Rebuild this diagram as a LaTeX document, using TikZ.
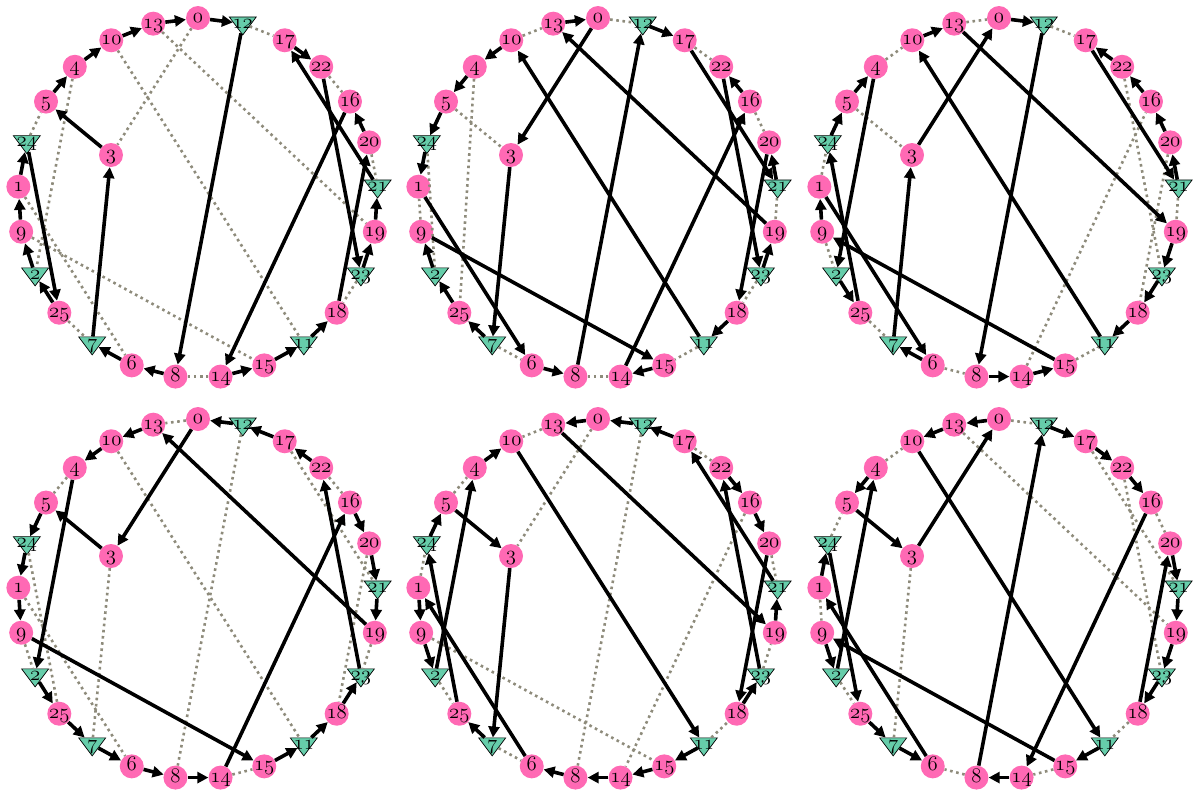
\documentclass[tikz,border=0pt]{standalone}
\usetikzlibrary{arrows.meta,shapes.geometric}
\definecolor{Pink}{HTML}{FF69B4}
\definecolor{Aqua}{HTML}{66CDAA}
\definecolor{Grey}{HTML}{8E8B7B}

% node / slot on the ring / shape
\newcommand\slots{0/0/pnode,12/1/tnode,17/2/pnode,22/3/pnode,16/4/pnode,20/5/pnode,
  21/6/tnode,19/7/pnode,23/8/tnode,18/9/pnode,11/10/tnode,15/11/pnode,14/12/pnode,
  8/13/pnode,6/14/pnode,7/15/tnode,25/16/pnode,2/17/tnode,9/18/pnode,1/19/pnode,
  24/20/tnode,5/21/pnode,4/22/pnode,10/23/pnode,13/24/pnode}
\newcommand\lbl[1]{\makebox[0pt]{\smash{\raisebox{-.5ex}{$\mathnormal{#1}$}}}}
% #1 name prefix, #2/#3 centre, #4 tour arrows, #5 dotted links
\newcommand\panel[5]{%
  \begin{scope}[shift={(#2,#3)}]
    \foreach \n/\k/\s in \slots
      \node[\s] (#1\n) at (90-14.4*\k:180) {\lbl{\n}};
    \node[pnode] (#13) at (-87,43) {\lbl{3}};
  \end{scope}
  \foreach \a/\b in {#5} \draw[link] (#1\a) -- (#1\b);
  \foreach \a/\b in {#4} \draw[tour] (#1\a) -- (#1\b);
}

\begin{document}
\begin{tikzpicture}[x=1pt,y=1pt,
    every node/.style={font=\fontsize{21}{21}\selectfont},
    pnode/.style={circle,fill=Pink,inner sep=0pt,minimum size=24pt},
    tnode/.style={isosceles triangle,isosceles triangle stretches,
      shape border rotate=-90,fill=Aqua,draw=black,line width=0.7pt,
      inner sep=0pt,minimum width=27pt,minimum height=18pt},
    tour/.style={line width=3.6pt,-{Triangle[length=11pt,width=11pt]}},
    link/.style={Grey,line width=2.6pt,dash pattern=on 2.6pt off 3.6pt}
  ]
  \useasboundingbox (0,0) rectangle (1194,-790);

  \panel{A}{198}{-198}
    {13/0,0/12,12/8,8/6,6/7,7/3,3/5,5/4,4/10,10/13,17/22,22/23,23/19,19/21,21/17,
     20/16,16/14,14/15,15/11,11/18,18/20,25/2,2/9,9/1,1/24,24/25}
    {12/17,22/16,20/21,0/3,13/19,10/11,4/2,24/5,1/6,9/15,25/7,8/14,23/18}

  \panel{B}{598}{-198}
    {13/0,0/3,3/7,7/25,25/2,2/9,9/15,15/14,14/16,16/22,22/23,23/19,19/13,
     10/4,4/5,5/24,24/1,1/6,6/8,8/12,12/17,17/21,21/20,20/18,18/11,11/10}
    {0/12,10/13,5/3,4/25,24/2,16/20,21/19,23/18,11/15,8/14,7/6,9/1,17/22}

  \panel{C}{999}{-198}
    {0/12,12/8,8/14,14/15,15/9,9/1,1/6,6/7,7/3,3/0,10/13,13/19,19/23,23/18,18/11,
     11/10,17/21,21/20,20/16,16/22,22/17,5/4,4/2,2/25,25/24,24/5}
    {13/0,12/17,4/10,1/24,5/3,9/2,25/7,6/8,15/11,14/16,22/23,20/18,21/19}

  \panel{D}{198}{-599}
    {12/0,0/3,3/5,5/24,24/1,1/9,9/15,15/11,11/18,18/23,23/22,22/17,17/12,
     13/10,10/4,4/2,2/25,25/7,7/6,6/8,8/14,14/16,16/20,20/21,21/19,19/13}
    {0/13,4/5,22/16,14/15,9/2,10/11,12/8,3/7,24/25,1/6,17/21,20/18,19/23}

  \panel{E}{598}{-599}
    {0/13,13/19,19/21,21/17,17/12,12/0,10/11,11/15,15/14,14/8,8/6,6/1,1/9,9/2,
     2/4,4/10,5/3,3/7,7/25,25/24,24/5,22/16,16/20,20/18,18/23,23/22}
    {13/10,17/22,20/21,5/4,1/24,0/3,12/8,16/14,7/6,11/18,23/19,9/15,2/25}

  \panel{F}{999}{-599}
    {0/13,13/10,10/11,11/15,15/9,9/2,2/4,4/5,5/3,3/0,12/17,17/22,22/16,16/14,
     14/8,8/12,20/21,21/19,19/23,23/18,18/20,1/24,24/25,25/7,7/6,6/1}
    {0/12,16/20,18/11,15/14,8/6,2/25,1/9,24/5,4/10,3/7,13/19,17/21,22/23}
\end{tikzpicture}
\end{document}
